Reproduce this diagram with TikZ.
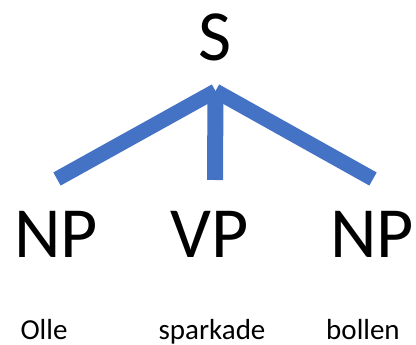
\documentclass[tikz,border=0pt]{standalone}
\usepackage{fontspec}
\setmainfont{Carlito}
\definecolor{treeblue}{HTML}{4472C4}
\begin{document}
\begin{tikzpicture}[x=1pt,y=-1pt,
  big/.style={font=\fontsize{72}{72}\selectfont, inner sep=0pt, anchor=base},
  word/.style={font=\fontsize{29}{29}\selectfont, inner sep=0pt, anchor=base},
  branch/.style={draw=treeblue, line width=15pt, line cap=butt}]
\useasboundingbox (0,0) rectangle (416,345);
\node[big] (s) at (215,61) {S};
\node[big] (np1) at (56,258) {NP};
\node[big] (vp) at (210,258) {VP};
\node[big] (np2) at (372,258) {NP};
\node[word] (w1) at (44,339) {Olle};
\node[word] (w2) at (212,339) {sparkade};
\node[word] (w3) at (363,339) {bollen};
\coordinate (top) at (215.5,91);
\coordinate (e1) at (57,179);
\coordinate (e2) at (215,180);
\coordinate (e3) at (373,179);
\draw[branch] (top) -- (e1);
\draw[branch] (top) -- (e3);
\draw[branch, line width=16pt] (top) -- (e2);
\end{tikzpicture}
\end{document}
